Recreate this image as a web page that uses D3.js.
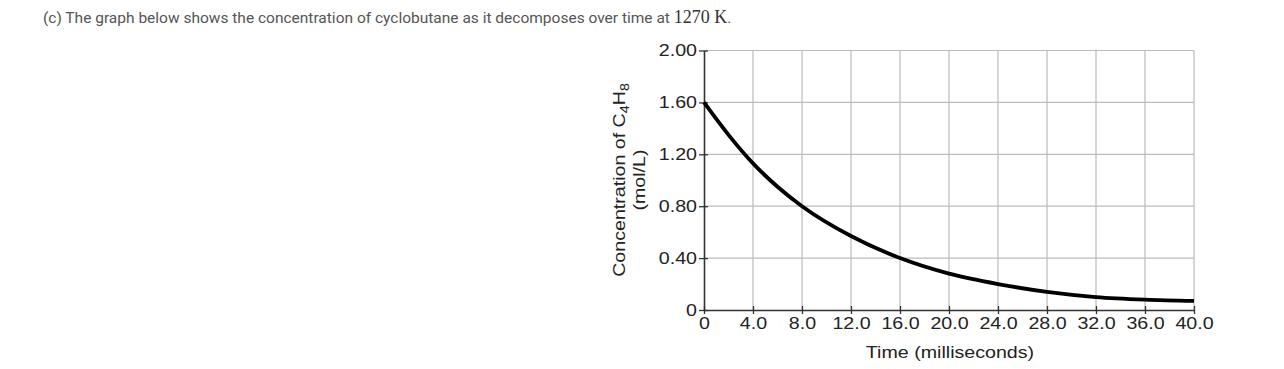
<!DOCTYPE html>
<html>
<head>
<meta charset="utf-8">
<script src="https://cdn.jsdelivr.net/npm/d3@7"></script>
<style>
  body { margin: 0; background: #fff; }
  svg { display: block; }
</style>
</head>
<body>
<svg id="chart" width="1284" height="369"></svg>
<script>
// readings
const times = [0, 2, 4, 6, 8, 12, 16, 20, 24, 28, 32, 36, 40];
const conc = [1.60, 1.35, 1.13, 0.95, 0.80, 0.57, 0.40, 0.28, 0.20, 0.14, 0.10, 0.08, 0.07];
const xTicks = [0, 4, 8, 12, 16, 20, 24, 28, 32, 36, 40];
const xTickLabels = ["0", "4.0", "8.0", "12.0", "16.0", "20.0", "24.0", "28.0", "32.0", "36.0", "40.0"];
const yTicks = [0, 0.4, 0.8, 1.2, 1.6, 2.0];
const yTickLabels = ["0", "0.40", "0.80", "1.20", "1.60", "2.00"];

const svg = d3.select("#chart");

const x = d3.scaleLinear().domain([0, 40]).range([704, 1194]);
const y = d3.scaleLinear().domain([0, 2]).range([310, 50.5]);

// caption
const cap = svg.append("text")
  .attr("x", 43).attr("y", 22.5)
  .attr("font-family", "Roboto, sans-serif")
  .attr("font-size", "15.5px")
  .attr("fill", "#555");
cap.append("tspan").text("(c) The graph below shows the concentration of cyclobutane as it decomposes over time at ");
cap.append("tspan").attr("font-family", "'Liberation Serif', serif").attr("font-size", "18px").attr("fill", "#333").text("1270 K");
cap.append("tspan").text(".");

// grid
const grid = svg.append("g").attr("stroke", "#bbb").attr("stroke-width", 1.2);
grid.selectAll("line.v").data(xTicks.slice(1)).enter().append("line")
  .attr("x1", d => x(d)).attr("x2", d => x(d))
  .attr("y1", y(0)).attr("y2", y(2));
grid.selectAll("line.h").data(yTicks.slice(1)).enter().append("line")
  .attr("x1", x(0)).attr("x2", x(40))
  .attr("y1", d => y(d)).attr("y2", d => y(d));

// axes - the artwork uses a wide helvetica, so stretch liberation sans a bit
const font = "'Liberation Sans', Arial, sans-serif";
const fs = "16.5px";
const sx = 1.19;

const xAxis = svg.append("g")
  .attr("transform", `translate(0,${y(0)})`)
  .call(d3.axisBottom(x).tickValues(xTicks).tickFormat((d, i) => xTickLabels[i]).tickSizeInner(4).tickSizeOuter(0).tickPadding(3));
xAxis.selectAll(".tick line").attr("y1", -4).attr("stroke", "#333").attr("stroke-width", 1.3);
xAxis.select(".domain").attr("stroke", "#333").attr("stroke-width", 1.6);
xAxis.selectAll("text").attr("font-family", font).attr("font-size", fs).attr("fill", "#222")
  .attr("transform", `scale(${sx},1)`);

const yAxis = svg.append("g")
  .attr("transform", `translate(${x(0)},0)`)
  .call(d3.axisLeft(y).tickValues(yTicks).tickFormat((d, i) => yTickLabels[i]).tickSizeInner(5).tickSizeOuter(0).tickPadding(2));
yAxis.selectAll(".tick line").attr("x1", 4).attr("stroke", "#333").attr("stroke-width", 1.3);
yAxis.select(".domain").attr("stroke", "#333").attr("stroke-width", 1.6);
yAxis.selectAll("text").attr("font-family", font).attr("font-size", fs).attr("fill", "#222")
  .attr("x", -7 / sx)
  .attr("transform", `scale(${sx},1)`);

// axis titles
svg.append("text")
  .attr("transform", `translate(950,357.5) scale(${sx},1)`)
  .attr("text-anchor", "middle")
  .attr("font-family", font).attr("font-size", fs).attr("fill", "#222")
  .text("Time (milliseconds)");

const yl = svg.append("text")
  .attr("transform", `translate(625,180) rotate(-90) scale(${sx},1)`)
  .attr("text-anchor", "middle")
  .attr("font-family", font).attr("font-size", fs).attr("fill", "#222");
yl.append("tspan").text("Concentration of C");
yl.append("tspan").attr("font-size", "12px").attr("dy", 4).text("4");
yl.append("tspan").attr("dy", -4).text("H");
yl.append("tspan").attr("font-size", "12px").attr("dy", 4).text("8");
svg.append("text")
  .attr("transform", `translate(645,180) rotate(-90) scale(${sx},1)`)
  .attr("text-anchor", "middle")
  .attr("font-family", font).attr("font-size", fs).attr("fill", "#222")
  .text("(mol/L)");

// decay curve
const data = times.map((t, i) => ({t: t, c: conc[i]}));
svg.append("path")
  .datum(data)
  .attr("fill", "none")
  .attr("stroke", "#000")
  .attr("stroke-width", 3.8)
  .attr("d", d3.line().x(d => x(d.t)).y(d => y(d.c)).curve(d3.curveMonotoneX));
</script>
</body>
</html>
